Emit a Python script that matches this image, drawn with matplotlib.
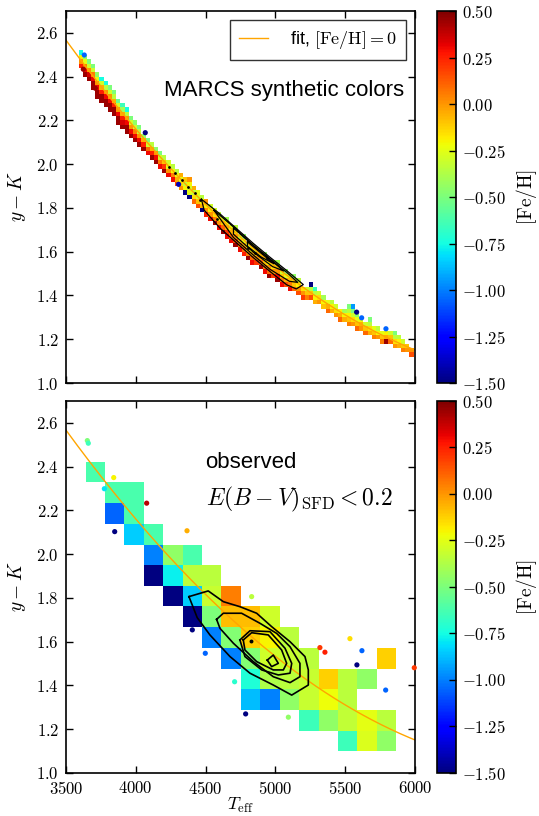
import numpy as np
import matplotlib
matplotlib.use('Agg')
import matplotlib.pyplot as plt
from matplotlib.colors import Normalize
from matplotlib.ticker import FuncFormatter, MultipleLocator
import matplotlib.cm as cm

plt.rcParams['font.family'] = ['Liberation Sans', 'DejaVu Sans']
plt.rcParams['mathtext.fontset'] = 'cm'

n = np.nan

# fit, [Fe/H]=0 : y-K = polyval(fit_coef, (Teff-5000)/1000)
fit_coef = [0.1229, -0.5049, 1.533]

# --- top panel: MARCS synthetic colours, binned (Teff centre, lowest cell y-K, [Fe/H] upward)
syn_dT = 30
syn_dv = 0.02
syn_cols = [
    (3605, 2.45, [0.25, 0.0, -0.2, -0.75]),
    (3635, 2.41, [0.45, 0.3, 0.05, -0.25, -0.45]),
    (3665, 2.39, [0.45, 0.35, 0.0, -0.3, -0.5]),
    (3695, 2.35, [0.45, 0.45, 0.3, 0.05, -0.3, -0.5]),
    (3725, 2.31, [0.45, 0.45, 0.3, 0.0, -0.25, -0.45]),
    (3755, 2.29, [0.45, 0.45, 0.25, -0.05, -0.3, -0.75]),
    (3785, 2.27, [0.45, 0.45, 0.3, 0.0, -0.35, -0.75]),
    (3815, 2.25, [0.45, 0.45, 0.3, 0.0, -0.3, -0.5]),
    (3845, 2.23, [0.45, 0.45, 0.25, -0.05, -0.35, -0.5]),
    (3875, 2.19, [0.45, 0.45, 0.3, 0.0, -0.3, -0.55]),
    (3905, 2.17, [0.45, 0.35, 0.25, -0.05, -0.4, -0.65]),
    (3935, 2.15, [0.45, 0.45, 0.3, 0.0, -0.35, -0.75]),
    (3965, 2.13, [0.45, 0.3, 0.0, -0.3, -0.5]),
    (3995, 2.11, [0.45, 0.3, 0.05, -0.3, -0.45]),
    (4025, 2.09, [0.45, 0.3, 0.0, -0.35, -0.5]),
    (4055, 2.07, [0.45, 0.25, -0.05, -0.45]),
    (4085, 2.05, [0.3, 0.1, -0.3, -0.5]),
    (4115, 2.03, [0.45, 0.25, -0.05, -0.35]),
    (4145, 2.01, [0.45, 0.3, 0.0, -0.45]),
    (4175, 1.99, [0.3, 0.05, -0.3, -0.5]),
    (4205, 1.97, [0.45, 0.2, -0.1, -0.35]),
    (4235, 1.95, [0.3, 0.0, -0.25, -0.3]),
    (4265, 1.93, [0.3, 0.05, -0.2, -0.35]),
    (4295, 1.91, [0.15, -0.05, -0.25, -0.35]),
    (4325, 1.89, [0.0, -0.15, -0.25, -0.05]),
    (4355, 1.87, [-1.5, -0.2, -0.35, -0.1]),
    (4385, 1.85, [-1.5, -0.25, -0.3, -0.2, 0.0]),
    (4415, 1.83, [0.1, -0.15, -0.35, -0.05]),
    (4445, 1.81, [0.15, -0.1, -0.3, -0.25]),
    (4475, 1.79, [-1.5, -0.05, -0.2, -0.35]),
    (4505, 1.77, [0.25, 0.0, -0.2, 0.0]),
    (4535, 1.75, [0.3, 0.0, -0.2, -0.3]),
    (4565, 1.73, [0.45, 0.05, -0.15, -0.3]),
    (4595, 1.71, [0.3, 0.0, -0.2, -0.35]),
    (4625, 1.69, [0.45, 0.1, -0.1, -0.3]),
    (4655, 1.67, [0.3, 0.2, -0.05, -0.2, -0.4]),
    (4685, 1.65, [0.3, 0.1, -0.05, -0.25]),
    (4715, 1.63, [0.45, 0.15, 0.0, -0.2, -0.35]),
    (4745, 1.61, [0.3, 0.05, -0.1, -0.3]),
    (4775, 1.59, [0.25, 0.1, -0.05, -0.25, -0.45]),
    (4805, 1.57, [0.45, 0.05, -0.1, -0.3]),
    (4835, 1.55, [0.3, 0.1, -0.05, -0.2, -0.35]),
    (4865, 1.55, [0.2, 0.0, -0.1, -0.3]),
    (4895, 1.53, [0.45, 0.1, -0.05, -0.25]),
    (4925, 1.51, [0.3, 0.05, -0.1, -0.3, -0.45]),
    (4955, 1.49, [0.45, 0.1, 0.0, -0.2]),
    (4985, 1.49, [0.2, 0.0, -0.15, -0.3]),
    (5015, 1.47, [0.45, 0.3, 0.0, -0.2, -0.4]),
    (5045, 1.45, [0.3, 0.05, -0.1, -0.3]),
    (5075, 1.45, [0.15, -0.05, -0.25, -0.45]),
    (5105, 1.43, [0.3, 0.05, -0.1, -0.3]),
    (5135, 1.43, [0.1, -0.1, -0.3, -0.45]),
    (5165, 1.41, [0.15, 0.0, -0.2, -0.35]),
    (5195, 1.39, [0.2, 0.0, -0.15]),
    (5225, 1.39, [0.05, -0.1, -0.3]),
    (5255, 1.39, [0.15, -0.1, -0.35, -1.5]),
    (5285, 1.37, [-0.05, -0.2, -0.35, -0.65]),
    (5315, 1.37, [0.0, -0.15, -0.3]),
    (5345, 1.35, [-0.1, -0.2, -0.4]),
    (5375, 1.33, [0.1, -0.05, -0.25]),
    (5405, 1.33, [-0.05, -0.2, -0.35]),
    (5435, 1.31, [0.0, -0.15, -0.3]),
    (5465, 1.29, [0.1, -0.05, -0.2]),
    (5495, 1.29, [-0.05, -0.2, -0.4]),
    (5525, 1.27, [0.05, -0.1, -0.2, -0.35, -0.5]),
    (5555, 1.27, [0.0, -0.15, -0.3, -0.5, -0.95]),
    (5585, 1.25, [0.1, -0.1, -0.25, -0.45]),
    (5615, 1.25, [0.0, -0.05, -0.2]),
    (5645, 1.23, [0.1, -0.1, -0.3]),
    (5675, 1.23, [-0.05, -0.15, -0.35, -0.5]),
    (5705, 1.21, [0.05, -0.1, -0.25]),
    (5735, 1.21, [0.0, -0.2, -0.35]),
    (5765, 1.19, [0.05, -0.1, -0.25]),
    (5795, 1.19, [0.45, -0.05, -0.2]),
    (5825, 1.19, [0.1, -0.1, -0.3]),
    (5855, 1.17, [0.0, -0.15, -0.35, -0.5]),
    (5885, 1.17, [-0.05, -0.2, -0.35]),
    (5915, 1.15, [0.05, -0.1, -0.3]),
    (5945, 1.15, [0.0, -0.1]),
    (5975, 1.13, [0.15, 0.0]),
]

# single synthetic points outside the bins
syn_T = [3631, 3624, 3710, 4068, 4307, 5582, 5618, 5792]
syn_v = [2.499, 2.434, 2.347, 2.144, 1.908, 1.324, 1.298, 1.248]
syn_feh = [-1.05, 0.45, 0.45, -1.5, -1.4, -1.5, -1.05, -1.05]

# black density points along the synthetic sequence
blk_T = [4240, 4281, 4329, 4376, 4424, 4460, 4579, 4806, 4854, 4938]
blk_v = [1.985, 1.958, 1.928, 1.897, 1.867, 1.836, 1.748, 1.616, 1.593, 1.570]

# synthetic density contours (Teff, y-K)
syn_contours = [
    ([4470, 4603, 4723, 4842, 4961, 5081, 5200, 5150, 5081, 4961, 4842, 4723, 4603, 4490, 4470],
     [1.840, 1.773, 1.705, 1.638, 1.575, 1.514, 1.450, 1.430, 1.449, 1.510, 1.573, 1.640, 1.708, 1.790, 1.840]),
    ([4560, 4700, 4842, 4961, 5081, 5160, 5100, 4961, 4842, 4700, 4560],
     [1.790, 1.713, 1.630, 1.568, 1.506, 1.460, 1.465, 1.520, 1.585, 1.665, 1.790]),
    ([4700, 4842, 4961, 5060, 4980, 4842, 4700, 4700],
     [1.708, 1.628, 1.565, 1.512, 1.532, 1.598, 1.680, 1.708]),
    ([4800, 4900, 4990, 4900, 4800, 4800],
     [1.645, 1.592, 1.545, 1.575, 1.625, 1.645]),
]

# --- bottom panel: observed, binned
obs_Tedges = [3641, 3780, 3919, 4058, 4197, 4336, 4475, 4614, 4753, 4892,
              5031, 5170, 5309, 5448, 5587, 5726, 5865]
obs_vedges = [1.099, 1.194, 1.288, 1.383, 1.477, 1.572, 1.666, 1.761,
              1.855, 1.950, 2.044, 2.139, 2.233, 2.328, 2.422]
# rows from low to high y-K, columns from low to high Teff
obs_feh = [
    [n, n, n, n, n, n, n, n, n, n, n, n, n, -0.65, -0.27, -0.45],
    [n, n, n, n, n, n, n, n, n, n, n, -0.65, -0.45, -0.33, -0.25, -0.35],
    [n, n, n, n, n, n, n, n, -0.88, -1.0, -0.45, -0.32, -0.22, -0.35, n, n],
    [n, n, n, n, n, n, n, n, -0.72, -0.38, -0.35, -0.32, -0.12, -0.35, -0.45, n],
    [n, n, n, n, n, n, n, -1.0, -0.48, -0.3, -0.32, -0.35, n, n, n, -0.12],
    [n, n, n, n, n, n, -1.0, -0.48, -0.12, -0.2, -0.35, n, n, n, n, n],
    [n, n, n, n, n, -1.5, -0.5, -0.08, -0.08, -0.3, n, n, n, n, n, n],
    [n, n, n, n, -1.5, -0.85, -0.32, 0.05, n, n, n, n, n, n, n, n],
    [n, n, n, -1.5, -0.78, -0.35, -0.35, n, n, n, n, n, n, n, n, n],
    [n, n, n, -1.0, -0.45, -0.62, n, n, n, n, n, n, n, n, n, n],
    [n, n, -0.85, -0.62, n, n, n, n, n, n, n, n, n, n, n, n],
    [n, -1.05, -0.62, n, n, n, n, n, n, n, n, n, n, n, n, n],
    [n, -0.62, -0.62, n, n, n, n, n, n, n, n, n, n, n, n, n],
    [-0.62, n, n, n, n, n, n, n, n, n, n, n, n, n, n, n],
]

obs_T = [3653, 3660, 3775, 3842, 3849, 4078, 4367, 4405, 4498, 4708,
         4787, 4830, 5093, 5319, 5355, 5534, 5584, 5620, 5790, 5995]
obs_v = [2.519, 2.507, 2.299, 2.350, 2.103, 2.233, 2.107, 1.654, 1.547, 1.417,
         1.270, 1.806, 1.255, 1.573, 1.552, 1.614, 1.494, 1.559, 1.379, 1.481]
obs_pt_feh = [-0.5, -0.65, -0.8, -0.2, -1.5, 0.4, -0.05, -1.5, -1.05, -0.7,
              -1.5, -0.35, -0.45, 0.2, 0.25, -0.15, -1.5, -1.05, -1.05, 0.2]

obs_contours = [
    ([4381, 4519, 4627, 4746, 4866, 4973, 5105, 5212, 5236, 5236, 5117, 4985, 4818, 4675, 4531, 4440, 4381],
     [1.806, 1.832, 1.783, 1.760, 1.730, 1.669, 1.600, 1.532, 1.471, 1.402, 1.356, 1.402, 1.456, 1.532, 1.631, 1.710, 1.806]),
    ([4579, 4627, 4758, 4890, 5009, 5105, 5176, 5176, 5105, 4985, 4842, 4699, 4603, 4579],
     [1.702, 1.730, 1.730, 1.684, 1.638, 1.577, 1.501, 1.440, 1.413, 1.440, 1.509, 1.593, 1.661, 1.702]),
    ([4746, 4818, 4961, 5069, 5117, 5105, 5021, 4902, 4782, 4746],
     [1.608, 1.650, 1.646, 1.570, 1.501, 1.456, 1.448, 1.471, 1.532, 1.608]),
    ([4770, 4830, 4949, 5045, 5081, 5057, 4985, 4866, 4782, 4770],
     [1.608, 1.641, 1.631, 1.562, 1.501, 1.471, 1.471, 1.509, 1.562, 1.608]),
    ([4942, 4985, 5021, 4973, 4942],
     [1.516, 1.539, 1.501, 1.486, 1.516]),
]
obs_peak = ([4825], [1.602])

cmap = cm.jet
norm = Normalize(vmin=-1.5, vmax=0.5)

fig = plt.figure(figsize=(5.39, 8.16), dpi=100)
ax1 = fig.add_axes([0.1224, 0.5306, 0.6475, 0.4559])
ax2 = fig.add_axes([0.1224, 0.0527, 0.6475, 0.4559])
cax1 = fig.add_axes([0.8108, 0.5306, 0.0353, 0.4559])
cax2 = fig.add_axes([0.8108, 0.0527, 0.0353, 0.4559])

Tfit = np.linspace(3500, 6000, 300)
vfit = np.polyval(fit_coef, (Tfit - 5000) / 1000.)

# top panel
bx, bv, bf = [], [], []
for T, vlow, fehs in syn_cols:
    for k, f in enumerate(fehs):
        bx.append(T)
        bv.append(vlow + k * syn_dv)
        bf.append(f)
bv = np.array(bv)
ax1.bar(bx, syn_dv, bottom=bv - syn_dv / 2, width=syn_dT,
        color=cmap(norm(np.array(bf))), linewidth=0, zorder=1)
ax1.plot(Tfit, vfit, color='orange', lw=1.0, zorder=2, label=r'fit, $[\mathrm{Fe/H}]=0$')
for cT, cv in syn_contours:
    ax1.plot(cT, cv, color='k', lw=0.9, zorder=3)
ax1.scatter(blk_T, blk_v, s=4, color='k', zorder=3, linewidths=0)
ax1.scatter(syn_T, syn_v, c=syn_feh, cmap=cmap, norm=norm, s=14, linewidths=0, zorder=4)
ax1.text(0.281, 0.785, 'MARCS synthetic colors', transform=ax1.transAxes,
         fontsize=16, ha='left', va='center')
leg = ax1.legend(loc='upper right', fontsize=13, fancybox=False, handlelength=1.6,
                 handletextpad=1.2, borderpad=0.5)
leg.get_frame().set_edgecolor('k')
leg.get_frame().set_linewidth(1.0)

# bottom panel
Z = np.ma.masked_invalid(np.array(obs_feh))
ax2.pcolormesh(obs_Tedges, obs_vedges, Z, cmap=cmap, norm=norm, zorder=1)
ax2.plot(Tfit, vfit, color='orange', lw=1.0, zorder=2)
for cT, cv in obs_contours:
    ax2.plot(cT, cv, color='k', lw=1.2, zorder=3)
ax2.scatter(obs_peak[0], obs_peak[1], s=8, color='k', linewidths=0, zorder=3)
ax2.scatter(obs_T, obs_v, c=obs_pt_feh, cmap=cmap, norm=norm, s=14, linewidths=0,
            zorder=4, clip_on=False)
ax2.text(0.40, 0.835, 'observed', transform=ax2.transAxes, fontsize=16,
         ha='left', va='center')
ax2.text(0.40, 0.734, r'$E(B-V)_{\rm SFD}<0.2$', transform=ax2.transAxes,
         fontsize=17, ha='left', va='center')
ax2.set_xlabel(r'$T_{\rm eff}$', fontsize=13, labelpad=-1)

yfmt = FuncFormatter(lambda v, p: r'$%.1f$' % v)
xfmt = FuncFormatter(lambda v, p: r'$%d$' % v)
cfmt = FuncFormatter(lambda v, p: r'$%.2f$' % v)

for ax in (ax1, ax2):
    ax.set_xlim(3500, 6000)
    ax.set_ylim(1.0, 2.7)
    ax.xaxis.set_major_locator(MultipleLocator(500))
    ax.yaxis.set_major_locator(MultipleLocator(0.2))
    ax.yaxis.set_major_formatter(yfmt)
    ax.xaxis.set_major_formatter(xfmt)
    ax.tick_params(direction='in', top=True, right=True, length=5, width=1,
                   labelsize=12, pad=5)
    ax.set_ylabel(r'$y-K$', fontsize=14, labelpad=6)
    for s in ax.spines.values():
        s.set_linewidth(1.2)
ax1.tick_params(labelbottom=False)

for cax in (cax1, cax2):
    cb = fig.colorbar(cm.ScalarMappable(norm=norm, cmap=cmap), cax=cax,
                      ticks=np.arange(-1.5, 0.51, 0.25))
    cb.ax.yaxis.set_major_formatter(cfmt)
    cb.ax.tick_params(direction='in', length=5, width=1, labelsize=12, pad=4)
    cb.outline.set_linewidth(1.2)
    cb.set_label(r'$[\mathrm{Fe/H}]$', fontsize=14, labelpad=6)

fig.savefig('out.png', dpi=100)
